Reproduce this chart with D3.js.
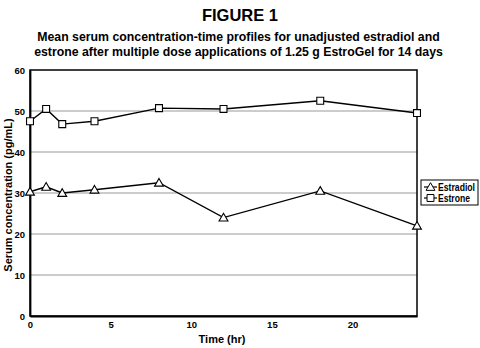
<!DOCTYPE html>
<html><head><meta charset="utf-8">
<script src="https://cdn.jsdelivr.net/npm/d3@7"></script>
<style>body{margin:0;background:#fff}svg{display:block}</style>
</head><body><svg id="c" width="480" height="348"></svg>
<script>
const times = [0, 1, 2, 4, 8, 12, 18, 24];
const estradiol = [30.3, 31.5, 30.0, 30.8, 32.5, 24.0, 30.5, 22.0];
const estrone = [47.5, 50.5, 46.8, 47.5, 50.7, 50.5, 52.5, 49.5];
const xTicks = [0, 5, 10, 15, 20];
const yTicks = [0, 10, 20, 30, 40, 50, 60];
const seriesNames = ["Estradiol", "Estrone"];

const svg = d3.select("#c");
const F = "'Liberation Sans', Arial, Helvetica, sans-serif";
const m = {l: 30, r: 417, t: 70, b: 316};
const x = d3.scaleLinear().domain([0, 24]).range([m.l, m.r]);
const y = d3.scaleLinear().domain([0, 60]).range([m.b, m.t]);

svg.append("text").attr("x", 240).attr("y", 21).attr("text-anchor", "middle")
  .attr("font-family", F).attr("font-weight", "bold").attr("font-size", 16.5).text("FIGURE 1");
svg.append("text").attr("x", 238.5).attr("y", 41).attr("text-anchor", "middle")
  .attr("font-family", F).attr("font-weight", "bold").attr("font-size", 12.3)
  .text("Mean serum concentration-time profiles for unadjusted estradiol and");
svg.append("text").attr("x", 238.5).attr("y", 56).attr("text-anchor", "middle")
  .attr("font-family", F).attr("font-weight", "bold").attr("font-size", 12.3)
  .text("estrone after multiple dose applications of 1.25 g EstroGel for 14 days");

// gridlines
svg.append("g").selectAll("line").data(yTicks.filter(d => d > 0 && d < 60)).join("line")
  .attr("x1", m.l).attr("x2", m.r).attr("y1", d => y(d)).attr("y2", d => y(d))
  .attr("stroke", "#999").attr("stroke-width", 1.2);

// frame
svg.append("rect").attr("x", m.l).attr("y", m.t).attr("width", m.r - m.l).attr("height", m.b - m.t)
  .attr("fill", "none").attr("stroke", "#000").attr("stroke-width", 1.5);

// axes
const ya = svg.append("g").attr("transform", `translate(${m.l},0)`)
  .call(d3.axisLeft(y).tickValues(yTicks).tickSize(0).tickPadding(5));
const xa = svg.append("g").attr("transform", `translate(0,${m.b})`)
  .call(d3.axisBottom(x).tickValues(xTicks).tickSize(0).tickPadding(5));
[ya, xa].forEach(a => {
  a.select(".domain").attr("stroke", "#000").attr("stroke-width", 1.8);
  a.selectAll("text").attr("font-family", F).attr("font-weight", "bold").attr("font-size", 9.5).attr("fill", "#000");
});

svg.append("text").attr("transform", `translate(12,${(m.t + m.b) / 2 + 2}) rotate(-90)`)
  .attr("text-anchor", "middle").attr("font-family", F).attr("font-weight", "bold").attr("font-size", 11)
  .text("Serum concentration (pg/mL)");
svg.append("text").attr("x", 222).attr("y", 343).attr("text-anchor", "middle")
  .attr("font-family", F).attr("font-weight", "bold").attr("font-size", 11).text("Time (hr)");

const line = d3.line().x(d => x(d[0])).y(d => y(d[1]));
const tri = d3.symbol().type(d3.symbolTriangle).size(34);
const sq = d3.symbol().type(d3.symbolSquare).size(48);
const series = [
  {name: seriesNames[0], vals: estradiol, sym: tri, dy: 0.8, tl: 37},
  {name: seriesNames[1], vals: estrone, sym: sq, dy: 0, tl: 32}
];
series.forEach(s => {
  const pts = times.map((t, i) => [t, s.vals[i]]);
  svg.append("path").attr("d", line(pts)).attr("fill", "none").attr("stroke", "#000").attr("stroke-width", 1.4);
  svg.append("g").selectAll("path").data(pts).join("path")
    .attr("d", s.sym).attr("transform", d => `translate(${x(d[0])},${y(d[1]) + s.dy})`)
    .attr("fill", "#fff").attr("stroke", "#000").attr("stroke-width", 1.1);
});

// legend
const lg = svg.append("g").attr("transform", "translate(421,180)");
lg.append("rect").attr("width", 57).attr("height", 25).attr("fill", "#fff").attr("stroke", "#000").attr("stroke-width", 1);
series.forEach((s, i) => {
  const yy = 7 + i * 11;
  lg.append("line").attr("x1", 3).attr("x2", 16).attr("y1", yy).attr("y2", yy).attr("stroke", "#000").attr("stroke-width", 1.2);
  lg.append("path").attr("d", s.sym).attr("transform", `translate(9.5,${yy + s.dy})`)
    .attr("fill", "#fff").attr("stroke", "#000").attr("stroke-width", 1);
  lg.append("text").attr("x", 17).attr("y", yy + 3.5).attr("font-family", F).attr("font-weight", "bold")
    .attr("font-size", 10).attr("textLength", s.tl).attr("lengthAdjust", "spacingAndGlyphs").text(s.name);
});
</script></body></html>
